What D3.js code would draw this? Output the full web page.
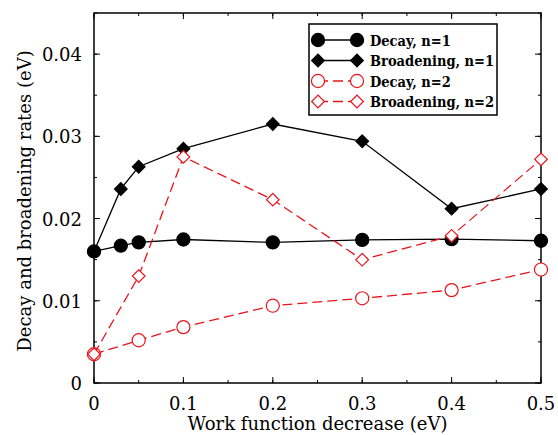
<!DOCTYPE html>
<html>
<head>
<meta charset="utf-8">
<script src="https://cdn.jsdelivr.net/npm/d3@7"></script>
<style>
  body { margin: 0; background: #fff; }
  svg text { font-family: "DejaVu Serif", serif; }
  svg text.leg { font-family: "DejaVu Serif Condensed", "DejaVu Serif", serif; font-stretch: condensed; }
</style>
</head>
<body>
<div id="chart"></div>
<script>
// data
var xDecay1 = [0, 0.03, 0.05, 0.1, 0.2, 0.3, 0.4, 0.5];
var decay1 = [0.0160, 0.0167, 0.0171, 0.01745, 0.0171, 0.0174, 0.0175, 0.0173];
var xBroad1 = [0, 0.03, 0.05, 0.1, 0.2, 0.3, 0.4, 0.5];
var broad1 = [0.0160, 0.0236, 0.0263, 0.0285, 0.0315, 0.0294, 0.0212, 0.0236];
var xDecay2 = [0, 0.05, 0.1, 0.2, 0.3, 0.4, 0.5];
var decay2 = [0.0035, 0.0052, 0.0068, 0.0094, 0.0103, 0.0113, 0.0138];
var xBroad2 = [0, 0.05, 0.1, 0.2, 0.3, 0.4, 0.5];
var broad2 = [0.0035, 0.0130, 0.0275, 0.0223, 0.0150, 0.0179, 0.0272];
var xTicks = [0, 0.1, 0.2, 0.3, 0.4, 0.5];
var yTicks = [0, 0.01, 0.02, 0.03, 0.04];
var seriesNames = ["Decay, n=1", "Broadening, n=1", "Decay, n=2", "Broadening, n=2"];

var svgWidth = 558, svgHeight = 435;
var margin = {top: 13, right: 17, bottom: 52, left: 94};
var chartWidth = svgWidth - margin.left - margin.right;
var chartHeight = svgHeight - margin.top - margin.bottom;

var svg = d3.select("#chart").append("svg")
  .attr("width", svgWidth)
  .attr("height", svgHeight);

var chartGroup = svg.append("g")
  .attr("transform", `translate(${margin.left}, ${margin.top})`);

var x = d3.scaleLinear().domain([0, 0.5]).range([0, chartWidth]);
var y = d3.scaleLinear().domain([0, 0.045]).range([chartHeight, 0]);

// ticks, all pointing inward
var xMinor = d3.range(0, 0.5001, 0.05);
var yMinor = d3.range(0, 0.0451, 0.005);

function tickMarks(vals, len, side) {
  chartGroup.selectAll(null).data(vals).enter().append("line")
    .attr("x1", d => side == "b" || side == "t" ? x(d) : (side == "l" ? 0 : chartWidth))
    .attr("x2", d => side == "b" || side == "t" ? x(d) : (side == "l" ? len : chartWidth - len))
    .attr("y1", d => side == "l" || side == "r" ? y(d) : (side == "b" ? chartHeight : 0))
    .attr("y2", d => side == "l" || side == "r" ? y(d) : (side == "b" ? chartHeight - len : len))
    .attr("stroke", "#000").attr("stroke-width", 1);
}
tickMarks(xMinor, 3, "b"); tickMarks(xMinor, 3, "t");
tickMarks(xTicks, 6, "b"); tickMarks(xTicks, 6, "t");
tickMarks(yMinor, 3, "l"); tickMarks(yMinor, 3, "r");
tickMarks(yTicks, 6, "l"); tickMarks(yTicks, 6, "r");

chartGroup.append("rect")
  .attr("width", chartWidth).attr("height", chartHeight)
  .attr("fill", "none").attr("stroke", "#000").attr("stroke-width", 1.5);

chartGroup.selectAll(null).data(xTicks).enter().append("text")
  .attr("x", d => x(d)).attr("y", chartHeight + 27)
  .attr("text-anchor", "middle").attr("font-size", 18)
  .text(d => d3.format("")(d));

chartGroup.selectAll(null).data(yTicks).enter().append("text")
  .attr("x", -12).attr("y", d => y(d) + 7)
  .attr("text-anchor", "end").attr("font-size", 18)
  .text(d => d3.format("")(d));

svg.append("text")
  .attr("x", margin.left + chartWidth / 2).attr("y", 430)
  .attr("text-anchor", "middle").attr("font-size", 18)
  .text("Work function decrease (eV)");

svg.append("text")
  .attr("transform", "translate(31, 201) rotate(-90)")
  .attr("text-anchor", "middle").attr("font-size", 18)
  .text("Decay and broadening rates (eV)");

var series = [
  {xs: xDecay1, ys: decay1, color: "#000", dash: null, shape: "circle", fill: "#000"},
  {xs: xBroad1, ys: broad1, color: "#000", dash: null, shape: "diamond", fill: "#000"},
  {xs: xDecay2, ys: decay2, color: "#e8141c", dash: "10,5", shape: "circle", fill: "#fff"},
  {xs: xBroad2, ys: broad2, color: "#e8141c", dash: "10,5", shape: "diamond", fill: "#fff"}
];

var line = d3.line().x(d => x(d[0])).y(d => y(d[1]));

function symbolPath(s) {
  return s.shape == "circle" ? d3.symbol().type(d3.symbolCircle).size(135)() : d3.symbol().type(d3.symbolSquare).size(80)();
}
function symbolRot(s) {
  return s.shape == "diamond" ? " rotate(45)" : "";
}

series.forEach(function(s) {
  var pts = s.xs.map((v, i) => [v, s.ys[i]]);
  chartGroup.append("path")
    .attr("d", line(pts))
    .attr("fill", "none").attr("stroke", s.color).attr("stroke-width", 1.3)
    .attr("stroke-dasharray", s.dash);
  chartGroup.selectAll(null).data(pts).enter().append("path")
    .attr("d", symbolPath(s))
    .attr("transform", d => `translate(${x(d[0])}, ${y(d[1])})` + symbolRot(s))
    .attr("fill", s.fill).attr("stroke", s.color).attr("stroke-width", 1.2);
});

// legend
var legend = svg.append("g").attr("transform", "translate(309, 24)");
legend.append("rect").attr("width", 188).attr("height", 91)
  .attr("fill", "#fff").attr("stroke", "#000").attr("stroke-width", 1.5);

series.forEach(function(s, i) {
  var ly = 16 + i * 20.5;
  legend.append("line").attr("x1", 9).attr("x2", 48).attr("y1", ly).attr("y2", ly)
    .attr("stroke", s.color).attr("stroke-width", 1.3).attr("stroke-dasharray", s.dash);
  [9, 48].forEach(function(lx) {
    legend.append("path").attr("d", symbolPath(s))
      .attr("transform", `translate(${lx}, ${ly})` + symbolRot(s))
      .attr("fill", s.fill).attr("stroke", s.color).attr("stroke-width", 1.2);
  });
  legend.append("text").attr("class", "leg").attr("x", 61).attr("y", ly + 5.5)
    .attr("font-size", 14.5).attr("font-weight", "bold")
    .text(seriesNames[i]);
});
</script>
</body>
</html>
